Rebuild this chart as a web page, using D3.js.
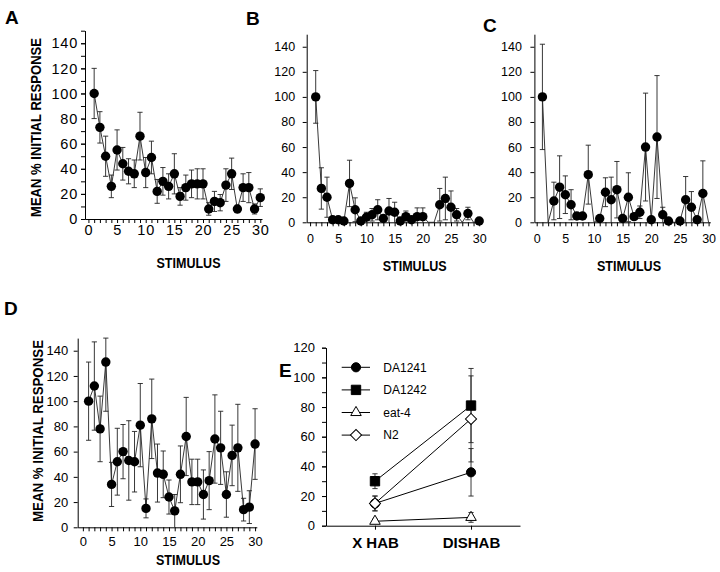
<!DOCTYPE html>
<html><head><meta charset="utf-8">
<script src="https://cdn.jsdelivr.net/npm/d3@7"></script>
<style>
body{margin:0;background:#fff;}
svg{display:block;font-family:"Liberation Sans",Arial,Helvetica,sans-serif;}
</style></head><body>
<svg id="chart" width="720" height="572"></svg>
<script>
// ---------- DATA ----------
const stimulus = d3.range(1, 31);
const meanA = [100,73,50,26,55,44,38,36,66,37,49,22,30,26,36,18,25,28,28,28,8,14,13,27,36,8,25,25,8,17];
const semA  = [20,12.5,16,9,16,13,10,11,19,12,13,9.5,11,10,16,7,10,11,12,12,5,8,6.5,13,12.5,3,11,12,4,7];
const meanB = [100,27,20,2,2,1,31,10,1,4,6,10,3,9,8,1,4.5,2,4.5,4.5,0,0,14,19,12,6,0,7,0,1];
const semB  = [21,16.5,16,0,0,0,18.5,9.5,0,4,5,8,0,10,8,0,4.5,0,7,7,0,0,13,17,13,5,0,5,0,0];
const meanC = [100,0,17,28,22,14,5,5,38,0,3,24,18,26,3,20,4.5,8,60,2,68,6,1,0,1,18,12,2,23,0];
const semC  = [42,0,15,25,15,12,0,0,23.5,0,0,11.5,18,22.5,0,19.5,0,5,43,0,49,6,0,0,0,18.5,12.5,0,26,0];
const meanD = [100,112,78,131,34,52,60,53,52,81,15,86,43,42,24,13,42,72,36,36,26,37,70,63,26,57,63,14,16,66];
const semD  = [31,35,26,39,17.5,26.5,21.5,31.5,24,33,7.5,31.5,23,18.5,13.5,13,22.5,31,18,18,19.5,23,35,29,18,24,34.5,9,13,28];
const yTicksMain = [0,20,40,60,80,100,120,140];
const xTickLabels = [0,5,10,15,20,25,30];

const groupsE = ["X HAB","DISHAB"];
const strainsE = ["DA1241","DA1242","eat-4","N2"];
const meanDA1241 = [15,36],  semDA1241 = [5,16];
const meanDA1242 = [30,81],  semDA1242 = [5,25];
const meanEat4   = [3,5.6],  semEat4   = [1.5,3.3];
const meanN2     = [15,72],  semN2     = [5,29];
const yTicksE = [0,20,40,60,80,100,120];

// ---------- DRAW ----------
const svg = d3.select("#chart");
const FONT = '"Liberation Sans",Arial,Helvetica,sans-serif';

function styleAxis(sel, fs, ls){
  sel.attr("font-family", FONT).attr("font-size", fs);
  sel.selectAll("path").attr("stroke","#000").attr("stroke-width",1);
  sel.selectAll("line").attr("stroke","#000").attr("stroke-width",1);
  sel.selectAll("text").attr("fill","#000").style("letter-spacing", ls||"0px");
}

function seriesPanel(cfg){
  const g = svg.append("g");
  const x = d3.scaleLinear().domain(cfg.xDomain).range(cfg.xRange);
  const y = d3.scaleLinear().domain([0,150]).range(cfg.yRange);
  const x0 = cfg.xRange[0];
  if (cfg.yMinor){
    g.append("g").attr("transform",`translate(${x0},0)`)
      .call(d3.axisLeft(y).tickValues(d3.range(0,151,10)).tickSize(4).tickSizeOuter(0).tickFormat(""))
      .call(s=>styleAxis(s,cfg.fs));
  }
  g.append("g").attr("transform",`translate(${x0},0)`)
    .call(d3.axisLeft(y).tickValues(yTicksMain).tickSize(4).tickSizeOuter(0).tickPadding(cfg.yPad))
    .call(s=>styleAxis(s,cfg.fs,cfg.ls));
  g.append("g").attr("transform",`translate(0,${cfg.yRange[0]})`)
    .call(d3.axisBottom(x).tickValues(d3.range(0,31)).tickSize(4).tickSizeOuter(0).tickPadding(cfg.xPad)
      .tickFormat(d=> xTickLabels.includes(d) ? d : ""))
    .call(s=>styleAxis(s,cfg.fs,cfg.ls));

  const pts = stimulus.map((s,i)=>({s, m:cfg.mean[i], e:cfg.sem[i]}));
  const eb = g.append("g").attr("stroke","#222").attr("stroke-width",0.9);
  pts.filter(d=>d.e>0).forEach(d=>{
    const lo = Math.max(0, d.m - d.e), hi = Math.min(150, d.m + d.e);
    const cx = x(d.s);
    eb.append("line").attr("x1",cx).attr("x2",cx).attr("y1",y(lo)).attr("y2",y(hi));
    eb.append("line").attr("x1",cx-2.6).attr("x2",cx+2.6).attr("y1",y(hi)).attr("y2",y(hi));
    if (lo>0) eb.append("line").attr("x1",cx-2.6).attr("x2",cx+2.6).attr("y1",y(lo)).attr("y2",y(lo));
  });
  g.append("path").datum(pts)
    .attr("d", d3.line().x(d=>x(d.s)).y(d=>y(d.m)))
    .attr("fill","none").attr("stroke","#222").attr("stroke-width",0.9);
  g.selectAll("circle.pt").data(pts.filter(d=>d.m>0)).join("circle")
    .attr("cx",d=>x(d.s)).attr("cy",d=>y(d.m)).attr("r",4.7).attr("fill","#000");

  g.append("text").attr("x",cfg.xlab[0]).attr("y",cfg.xlab[1]).attr("text-anchor","middle")
    .attr("font-weight","bold").attr("font-size",14).attr("textLength",64).attr("lengthAdjust","spacingAndGlyphs")
    .text("STIMULUS");
  if (cfg.ylab){
    g.append("text").attr("transform",`translate(${cfg.ylab[0]},${cfg.ylab[1]}) rotate(-90)`)
      .attr("text-anchor","middle").attr("font-weight","bold").attr("font-size",15)
      .attr("textLength",cfg.ylab[2]).attr("lengthAdjust","spacingAndGlyphs")
      .text("MEAN % INITIAL RESPONSE");
  }
  g.append("text").attr("x",cfg.letter[0]).attr("y",cfg.letter[1]).attr("font-weight","bold")
    .attr("font-size",19).text(cfg.name);
}

seriesPanel({name:"A", mean:meanA, sem:semA, xDomain:[-0.6,30.3], xRange:[85,262], yRange:[219,30.7],
  yMinor:true, fs:14.5, ls:"0.8px", yPad:3, xPad:2, xlab:[188.5,268], ylab:[41,127.5,179], letter:[5,23.5]});
seriesPanel({name:"B", mean:meanB, sem:semB, xDomain:[-0.6,30.5], xRange:[306.7,482], yRange:[222.3,34.2],
  yMinor:false, fs:12.5, yPad:7.5, xPad:8, xlab:[414.7,270.5], letter:[246,25]});
seriesPanel({name:"C", mean:meanC, sem:semC, xDomain:[-0.4,30.3], xRange:[534.4,710.3], yRange:[222.3,34.2],
  yMinor:false, fs:12.5, yPad:8.5, xPad:8, xlab:[629,271], letter:[483,31.5]});
seriesPanel({name:"D", mean:meanD, sem:semD, xDomain:[-0.9,30.3], xRange:[77.7,256.8], yRange:[527.3,338.1],
  yMinor:false, fs:13, yPad:5.5, xPad:5.5, xlab:[188,565], ylab:[42.5,431,182], letter:[4,315]});

// ---------- PANEL E ----------
(function(){
  const g = svg.append("g");
  const x = d3.scalePoint().domain(groupsE).range([326,520]).padding(0.51);
  const y = d3.scaleLinear().domain([0,120]).range([525.7,347.7]);
  g.append("g").attr("transform","translate(326,0)")
    .call(d3.axisLeft(y).tickValues(d3.range(0,121,10)).tickSize(4).tickSizeOuter(0).tickFormat(""))
    .call(s=>styleAxis(s,13));
  g.append("g").attr("transform","translate(326,0)")
    .call(d3.axisLeft(y).tickValues(yTicksE).tickSize(4).tickSizeOuter(0).tickPadding(7))
    .call(s=>styleAxis(s,13));
  const xa = g.append("g").attr("transform","translate(0,525.7)")
    .call(d3.axisBottom(x).tickSize(4).tickSizeOuter(0).tickPadding(8))
    .call(s=>styleAxis(s,15));
  xa.selectAll("text").attr("font-weight","bold");

  const series = [
    {name:strainsE[0], mean:meanDA1241, sem:semDA1241, sym:d3.symbolCircle, size:66, fill:"#000", rot:0},
    {name:strainsE[1], mean:meanDA1242, sem:semDA1242, sym:d3.symbolSquare, size:88, fill:"#000", rot:0},
    {name:strainsE[2], mean:meanEat4,   sem:semEat4,   sym:d3.symbolTriangle, size:48, fill:"#fff", rot:0},
    {name:strainsE[3], mean:meanN2,     sem:semN2,     sym:d3.symbolSquare, size:62, fill:"#fff", rot:45}
  ];
  const eb = g.append("g").attr("stroke","#222").attr("stroke-width",0.9);
  series.forEach(s=>{
    groupsE.forEach((c,i)=>{
      const cx = x(c), lo = Math.max(0,s.mean[i]-s.sem[i]), hi = s.mean[i]+s.sem[i];
      eb.append("line").attr("x1",cx).attr("x2",cx).attr("y1",y(lo)).attr("y2",y(hi));
      eb.append("line").attr("x1",cx-2.6).attr("x2",cx+2.6).attr("y1",y(hi)).attr("y2",y(hi));
      eb.append("line").attr("x1",cx-2.6).attr("x2",cx+2.6).attr("y1",y(lo)).attr("y2",y(lo));
    });
  });
  series.forEach(s=>{
    g.append("path").datum(groupsE.map((c,i)=>[x(c),y(s.mean[i])]))
      .attr("d",d3.line()).attr("fill","none").attr("stroke","#000").attr("stroke-width",1);
  });
  series.forEach(s=>{
    groupsE.forEach((c,i)=>{
      g.append("path").attr("d",d3.symbol(s.sym,s.size)())
        .attr("transform",`translate(${x(c)},${y(s.mean[i])}) rotate(${s.rot})`)
        .attr("fill",s.fill).attr("stroke","#000").attr("stroke-width",1);
    });
  });
  const leg = g.append("g");
  series.forEach((s,i)=>{
    const ly = 367.3 + i*22.6;
    leg.append("line").attr("x1",341.7).attr("x2",370).attr("y1",ly).attr("y2",ly)
      .attr("stroke","#000").attr("stroke-width",1);
    leg.append("path").attr("d",d3.symbol(s.sym,s.size)())
      .attr("transform",`translate(356,${ly}) rotate(${s.rot})`)
      .attr("fill",s.fill).attr("stroke","#000").attr("stroke-width",1);
    leg.append("text").attr("x",383.3).attr("y",ly+4.3).attr("font-size",12).text(s.name);
  });
  g.append("text").attr("x",279).attr("y",377).attr("font-weight","bold").attr("font-size",19).text("E");
})();
</script>
</body></html>
